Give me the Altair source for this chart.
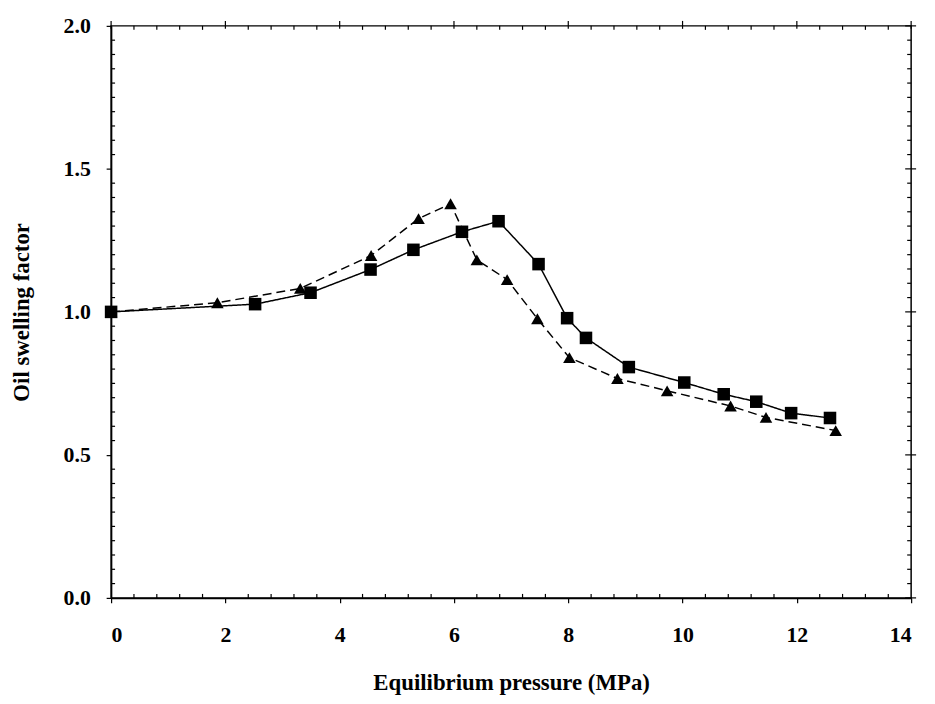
import altair as alt
import pandas as pd

# ---- data ----
x_21 = [0.0, 1.86, 3.31, 4.55, 5.38, 5.94, 6.40, 6.93, 7.46, 8.02, 8.86, 9.73, 10.84, 11.46, 12.68]
y_21 = [1.00, 1.032, 1.082, 1.197, 1.326, 1.378, 1.182, 1.113, 0.976, 0.840, 0.767, 0.724, 0.671, 0.631, 0.585]

x_30 = [0.0, 2.52, 3.49, 4.54, 5.29, 6.14, 6.78, 7.48, 7.98, 8.31, 9.06, 10.03, 10.72, 11.29, 11.90, 12.58]
y_30 = [1.00, 1.027, 1.067, 1.148, 1.217, 1.280, 1.317, 1.167, 0.978, 0.909, 0.807, 0.753, 0.712, 0.686, 0.646, 0.629]

series_names = ["T = 21 °C", "T = 30 °C"]

x_major = [0, 2, 4, 6, 8, 10, 12, 14]
y_major = [0.0, 0.5, 1.0, 1.5, 2.0]
x_minor = [0.4, 0.8, 1.2, 1.6, 2.4, 2.8, 3.2, 3.6, 4.4, 4.8, 5.2, 5.6, 6.4, 6.8, 7.2, 7.6,
           8.4, 8.8, 9.2, 9.6, 10.4, 10.8, 11.2, 11.6, 12.4, 12.8, 13.2, 13.6]
y_minor = [0.05, 0.1, 0.15, 0.2, 0.25, 0.3, 0.35, 0.4, 0.45,
           0.55, 0.6, 0.65, 0.7, 0.75, 0.8, 0.85, 0.9, 0.95,
           1.05, 1.1, 1.15, 1.2, 1.25, 1.3, 1.35, 1.4, 1.45,
           1.55, 1.6, 1.65, 1.7, 1.75, 1.8, 1.85, 1.9, 1.95]

W, H = 807, 577
FONT = "Liberation Serif"

labels = [series_names[0]] * len(x_21) + [series_names[1]] * len(x_30)
df = pd.DataFrame({"x": x_21 + x_30, "y": y_21 + y_30,
                   "series": labels, "dash": labels})

xs = alt.Scale(domain=[0, 14], nice=False, zero=False)
ys = alt.Scale(domain=[0, 2], nice=False, zero=False)

x_axis = alt.Axis(values=x_major, format="d", title="Equilibrium pressure (MPa)",
                  labelFont=FONT, labelFontWeight="bold", labelFontSize=22, labelColor="black",
                  titleFont=FONT, titleFontWeight="bold", titleFontSize=23, titleColor="black",
                  tickSize=5, tickColor="black", tickWidth=1.2, domainColor="black", domainWidth=1.5,
                  labelPadding=22, titlePadding=26, grid=False)
y_axis = alt.Axis(values=y_major, format=".1f", title="Oil swelling factor",
                  labelFont=FONT, labelFontWeight="bold", labelFontSize=22, labelColor="black",
                  titleFont=FONT, titleFontWeight="bold", titleFontSize=23, titleColor="black",
                  tickSize=5, tickColor="black", tickWidth=1.2, domainColor="black", domainWidth=1.5,
                  labelPadding=16, titlePadding=30, grid=False)

legend = alt.Legend(
    title=None, orient="none", legendX=51, legendY=21, padding=0,
    symbolSize=160, labelOffset=42, rowPadding=6,
    labelFont=FONT, labelFontSize=19, labelColor="black",
    symbolFillColor="black", symbolStrokeColor="black", symbolOpacity=1,
)

lines = alt.Chart(df).mark_line(color="black", strokeWidth=1.5).encode(
    x=alt.X("x:Q", scale=xs, axis=x_axis),
    y=alt.Y("y:Q", scale=ys, axis=y_axis),
    strokeDash=alt.StrokeDash("dash:N", scale=alt.Scale(domain=series_names, range=[[9, 5], [1, 0]]), legend=None),
    detail="dash:N",
)

points = alt.Chart(df).mark_point(filled=True, color="black", opacity=1, size=160).encode(
    x=alt.X("x:Q", scale=xs, axis=None),
    y=alt.Y("y:Q", scale=ys, axis=None),
    shape=alt.Shape("series:N", scale=alt.Scale(domain=series_names, range=["triangle-up", "square"]), legend=legend),
)

tick_style = dict(color="black", strokeWidth=1.2)

bottom_minor = alt.Chart(pd.DataFrame({"xb": x_minor})).mark_rule(**tick_style).encode(
    x=alt.X("xb:Q", scale=xs, axis=None), y=alt.value(H), y2=alt.value(H - 4))
top_minor = alt.Chart(pd.DataFrame({"xt": x_minor})).mark_rule(**tick_style).encode(
    x=alt.X("xt:Q", scale=xs, axis=None), y=alt.value(0), y2=alt.value(4))
top_major = alt.Chart(pd.DataFrame({"xtm": x_major})).mark_rule(**tick_style).encode(
    x=alt.X("xtm:Q", scale=xs, axis=None), y=alt.value(-5), y2=alt.value(3))
left_minor = alt.Chart(pd.DataFrame({"yl": y_minor})).mark_rule(**tick_style).encode(
    y=alt.Y("yl:Q", scale=ys, axis=None), x=alt.value(0), x2=alt.value(4))
right_minor = alt.Chart(pd.DataFrame({"yr": y_minor})).mark_rule(**tick_style).encode(
    y=alt.Y("yr:Q", scale=ys, axis=None), x=alt.value(W), x2=alt.value(W - 4))
right_major = alt.Chart(pd.DataFrame({"yrm": y_major})).mark_rule(**tick_style).encode(
    y=alt.Y("yrm:Q", scale=ys, axis=None), x=alt.value(W - 6), x2=alt.value(W + 5))

chart = alt.layer(
    lines, points,
    bottom_minor, top_minor, top_major, left_minor, right_minor, right_major,
).resolve_axis(
    x="independent", y="independent"
).properties(
    width=W, height=H,
    autosize=alt.AutoSizeParams(type="none"),
    padding={"left": 104, "top": 15, "right": 16, "bottom": 104},
).configure(
    background="white"
).configure_view(
    stroke="black", strokeWidth=1.5
)

chart.save("out.html", embed_options={"renderer": "svg", "actions": False})
